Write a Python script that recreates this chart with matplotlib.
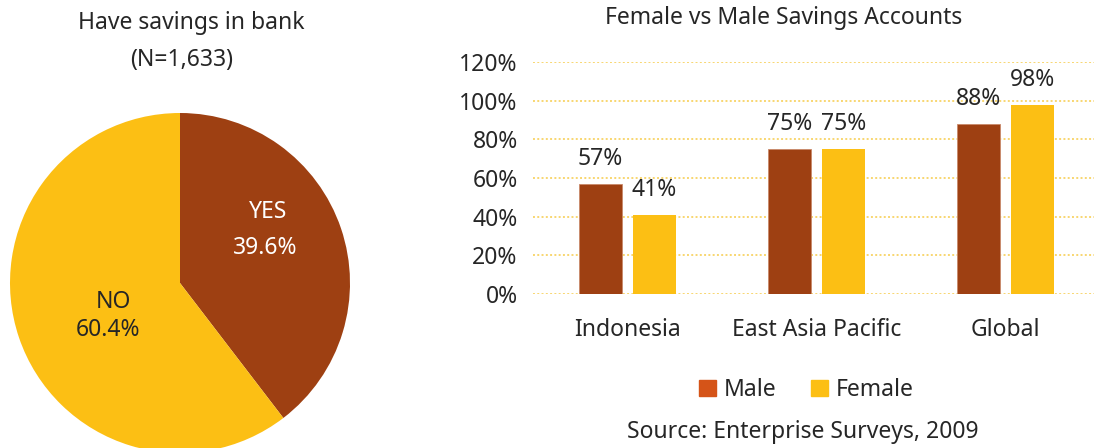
import matplotlib
matplotlib.use('Agg')
import matplotlib.pyplot as plt
import numpy as np
from matplotlib.patches import Patch

pie_labels = ['YES', 'NO']
pie_values = [39.6, 60.4]

categories = ['Indonesia', 'East Asia Pacific', 'Global']
male_values = [57, 75, 88]
female_values = [41, 75, 98]
y_ticks = [0, 20, 40, 60, 80, 100, 120]

BROWN = '#9E4012'
GOLD = '#FCBF14'
LEGEND_MALE = '#D55418'
TEXT = '#262626'
GRID = '#F8D670'
FS = 16.5

W, H = 1094, 448
plt.rcParams['font.family'] = ['Noto Sans', 'DejaVu Sans']
plt.rcParams['text.color'] = TEXT

fig = plt.figure(figsize=(W / 100, H / 100), dpi=100)


def px_box(x0, y0, x1, y1):
    # pixel box (top-left origin) -> figure fraction rect
    return [x0 / W, (H - y1) / H, (x1 - x0) / W, (y1 - y0) / H]


# --- pie ---
ax_pie = fig.add_axes(px_box(10, 113, 350, 453))
ax_pie.pie(pie_values, colors=[BROWN, GOLD], startangle=90, counterclock=False,
           radius=1, wedgeprops=dict(linewidth=0))
ax_pie.set_xlim(-1, 1)
ax_pie.set_ylim(-1, 1)
ax_pie.set_aspect('equal')
ax_pie.axis('off')

# label / value positions inside the wedges (pie data coords)
name_pos = [(0.518, 0.418), (-0.394, -0.112)]
val_pos = [(0.5, 0.206), (-0.424, -0.276)]
pie_text_col = ['white', TEXT]
for lab, val, p1, p2, c in zip(pie_labels, pie_values, name_pos, val_pos, pie_text_col):
    ax_pie.text(p1[0], p1[1], lab, ha='center', va='center', fontsize=FS, color=c)
    ax_pie.text(p2[0], p2[1], f'{val}%', ha='center', va='center', fontsize=FS, color=c)

fig.text(191 / W, 1 - 23 / H, 'Have savings in bank', ha='center', va='center', fontsize=FS)
fig.text(182 / W, 1 - 60 / H, '(N=1,633)', ha='center', va='center', fontsize=FS)

# --- bars ---
ax = fig.add_axes(px_box(533, 62, 1094, 294))
x = np.arange(len(categories))
bw = 0.2275
off = 0.143
bm = ax.bar(x - off, male_values, bw, color=BROWN, edgecolor='#C9896A', linewidth=0.6, zorder=3)
bf = ax.bar(x + off, female_values, bw, color=GOLD, zorder=3)
for bars, vals in ((bm, male_values), (bf, female_values)):
    for b, v in zip(bars, vals):
        ax.annotate(f'{v}%', (b.get_x() + b.get_width() / 2, v), xytext=(0, 13.5),
                    textcoords='offset points', ha='center', va='baseline',
                    fontsize=FS, annotation_clip=False)

ax.set_xlim(-0.5, 2.47)
ax.set_ylim(0, 120)
ax.set_yticks(y_ticks)
ax.set_yticklabels([f'{t}%' for t in y_ticks])
ax.set_xticks(x)
ax.set_xticklabels(categories)
ax.tick_params(axis='both', length=0, labelsize=FS, colors=TEXT)
ax.tick_params(axis='x', pad=17)
ax.tick_params(axis='y', pad=11)
ax.grid(axis='y', color=GRID, linestyle=(0, (1, 1.2)), linewidth=1.4, zorder=0)
for s in ax.spines.values():
    s.set_visible(False)

fig.text(784 / W, 1 - 18 / H, 'Female vs Male Savings Accounts', ha='center', va='center', fontsize=FS)

handles = [Patch(color=LEGEND_MALE, label='Male'), Patch(color=GOLD, label='Female')]
fig.legend(handles=handles, loc='center', bbox_to_anchor=(806 / W, 1 - 390 / H), ncol=2,
           frameon=False, fontsize=FS, handlelength=0.74, handleheight=0.74,
           handletextpad=0.35, columnspacing=1.5, borderpad=0)

fig.text(803 / W, 1 - 432 / H, 'Source: Enterprise Surveys, 2009', ha='center', va='center', fontsize=FS)

fig.savefig('out.png', dpi=100)
